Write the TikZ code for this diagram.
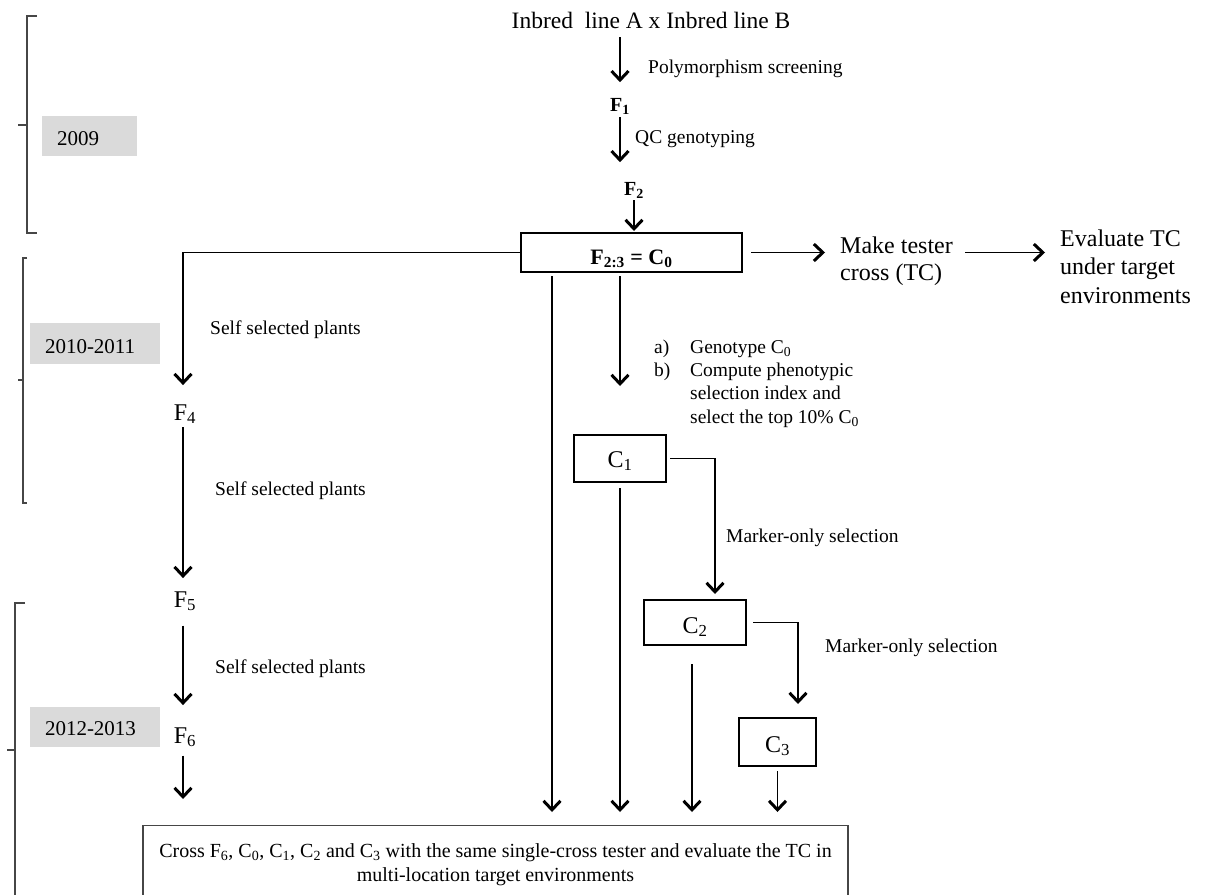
\documentclass[tikz,border=0pt]{standalone}
\usepackage{fontspec}
\setmainfont{Liberation Serif}
\usetikzlibrary{arrows.meta,calc}
\newcommand\FntBig{\fontsize{23.5}{28}\selectfont}
\newcommand\FntMid{\fontsize{24}{27}\selectfont}
\newcommand\FntSmall{\fontsize{19.5}{23.3}\selectfont}
\newcommand\FntBot{\fontsize{20}{24.5}\selectfont}
\newcommand\Sb[1]{\textsubscript{#1}}
\definecolor{yeargray}{RGB}{218,218,218}
\definecolor{brk}{RGB}{70,70,70}
\begin{document}
\begin{tikzpicture}[x=1pt,y=-1pt,
  arr/.style={line width=1.6pt,-{Straight Barb[length=9pt,width=17pt,line width=3pt]}},
  conn/.style={line width=1.6pt},
  lbl/.style={inner sep=0pt,font=\FntSmall,anchor=base west},
  gen/.style={inner sep=0pt,font=\FntMid,anchor=base},
  cbox/.style={draw,line width=2pt,inner sep=0pt,font=\FntMid,text depth=0pt},
  year/.style={fill=yeargray,inner xsep=15pt,inner ysep=0pt,align=left,text depth=0pt,font=\fontsize{21}{25}\selectfont},
  brace/.style={draw=brk,line width=1.2pt}
]
\clip (0,0) rectangle (1206,894);

% period brackets
\draw[brace] (37,16) -- (27,16) -- (27,233) -- (37,233);
\draw[brace] (27,125) -- (18,125);
\draw[brace] (27,258) -- (23,258) -- (23,503) -- (27,503);
\draw[brace] (23,380) -- (18,380);
\draw[brace] (25,603) -- (15,603) -- (15,900);
\draw[brace] (15,750) -- (7,750);

% year labels
\node[year,text width=65pt,minimum height=40pt,text height=18pt] (y1) at (89.5,136) {2009};
\node[year,text width=100pt,minimum height=41pt,text height=19pt] (y2) at (95,343.5) {2010-2011};
\node[year,text width=100pt,minimum height=40pt,text height=16pt] (y3) at (95,727) {2012-2013};

% top chain
\node[gen,font=\FntBig] (top) at (651,28) {Inbred\ \ line A x Inbred line B};
\node[gen,font=\fontsize{20}{24}\selectfont\bfseries] (f1) at (620,111) {F\Sb{1}};
\node[gen,font=\fontsize{20}{24}\selectfont\bfseries] (f2) at (634,195) {F\Sb{2}};
\node[lbl] (lp) at (648,73) {Polymorphism screening};
\node[lbl] (lq) at (635,143) {QC genotyping};

\node[cbox,minimum width=221pt,minimum height=39pt,text height=23pt,font=\fontsize{22}{26}\selectfont\bfseries] (c0) at (631.5,252.5) {F\Sb{2:3} = C\Sb{0}};

\node[inner sep=0pt,font=\FntMid,align=left,anchor=west] (mk) at (840,261) {Make tester\\cross (TC)};
\node[inner sep=0pt,font=\fontsize{24}{28.5}\selectfont,align=left,anchor=west] (ev) at (1060,266.3) {Evaluate TC\\under target\\environments};

% left column
\coordinate (k) at (183,252.5);
\node[gen] (f4) at (185,420) {F\Sb{4}};
\node[gen] (f5) at (185,607) {F\Sb{5}};
\node[gen] (f6) at (185,743) {F\Sb{6}};
\node[lbl] (s1) at (210,334) {Self selected plants};
\node[lbl] (s2) at (215,495) {Self selected plants};
\node[lbl] (s3) at (215,673) {Self selected plants};

% selection list
\node[inner sep=0pt,font=\FntSmall,align=left,anchor=west] (lst) at (654,383.4)
 {\makebox[36pt][l]{a)}Genotype C\Sb{0}\\\makebox[36pt][l]{b)}Compute phenotypic\\\hspace*{36pt}selection index and\\\hspace*{36pt}select the top 10\% C\Sb{0}};

% cycle boxes
\node[cbox,minimum width=92pt,minimum height=47pt,text height=17pt] (c1) at (620,458.5) {C\Sb{1}};
\node[cbox,minimum width=102pt,minimum height=45pt,text height=21pt] (c2) at (695,622.5) {C\Sb{2}};
\node[cbox,minimum width=77pt,minimum height=48pt,text height=20pt] (c3) at (777.5,742) {C\Sb{3}};
\node[lbl] (m1) at (726,542) {Marker-only selection};
\node[lbl] (m2) at (825,652) {Marker-only selection};

% bottom box
\node[draw=brk,line width=1.3pt,anchor=north,minimum width=705pt,inner xsep=8pt,inner ysep=17.5pt,align=center,font=\FntBot] (bot) at (495.5,825)
 {Cross F\Sb{6}, C\Sb{0}, C\Sb{1}, C\Sb{2} and C\Sb{3} with the same single-cross tester and evaluate the TC in\\multi-location target environments};

% connectors: top chain
\draw[arr,shorten <=9pt,shorten >=15.5pt] (top.south -| f1.north) -- (f1.north);
\draw[arr,shorten <=3pt,shorten >=19.5pt] (f1.south) -- (f1.south |- f2.north);
\draw[arr,shorten <=2pt,shorten >=1pt] (f2.south) -- (f2.south |- c0.north);
\draw[arr,shorten <=8pt,shorten >=15pt] (c0.east) -- (c0.east -| mk.west);
\draw[arr,shorten <=12pt,shorten >=15pt] (c0.east -| mk.east) -- (c0.east -| ev.west);

% connectors: left column
\draw[arr,shorten >=19pt] (c0.west) -- (k) -- (k |- f4.north);
\draw[arr,shorten <=3.5pt,shorten >=13pt] (k |- f4.south) -- (k |- f5.north);
\draw[arr,shorten <=14.5pt,shorten >=22pt] (k |- f5.south) -- (k |- f6.north);
\draw[arr,shorten <=8.5pt,shorten >=26pt] (k |- f6.south) -- (k |- bot.north);

% connectors: recurrent selection
\coordinate (d0) at ([xshift=32pt]c0.south west);
\coordinate (d1) at ([xshift=100pt]c0.south west);
\coordinate (d2) at ([xshift=-3pt]c2.south);
\draw[arr,shorten <=3pt,shorten >=13pt] (d0) -- (d0 |- bot.north);
\draw[arr,shorten <=3pt,shorten >=48pt] (d1) -- (d1 |- c1.north);
\draw[arr,shorten <=5pt,shorten >=13pt] (c1.south) -- (c1.south |- bot.north);
\draw[arr,shorten <=3pt,shorten >=5pt] (c1.east) -| ([xshift=20pt]c2.north);
\draw[arr,shorten <=6pt,shorten >=13pt] (c2.east) -| ([xshift=20.5pt]c3.north);
\draw[arr,shorten <=18pt,shorten >=13pt] (d2) -- (d2 |- bot.north);
\draw[arr,shorten <=4pt,shorten >=13pt] (c3.south) -- (c3.south |- bot.north);
\end{tikzpicture}
\end{document}
